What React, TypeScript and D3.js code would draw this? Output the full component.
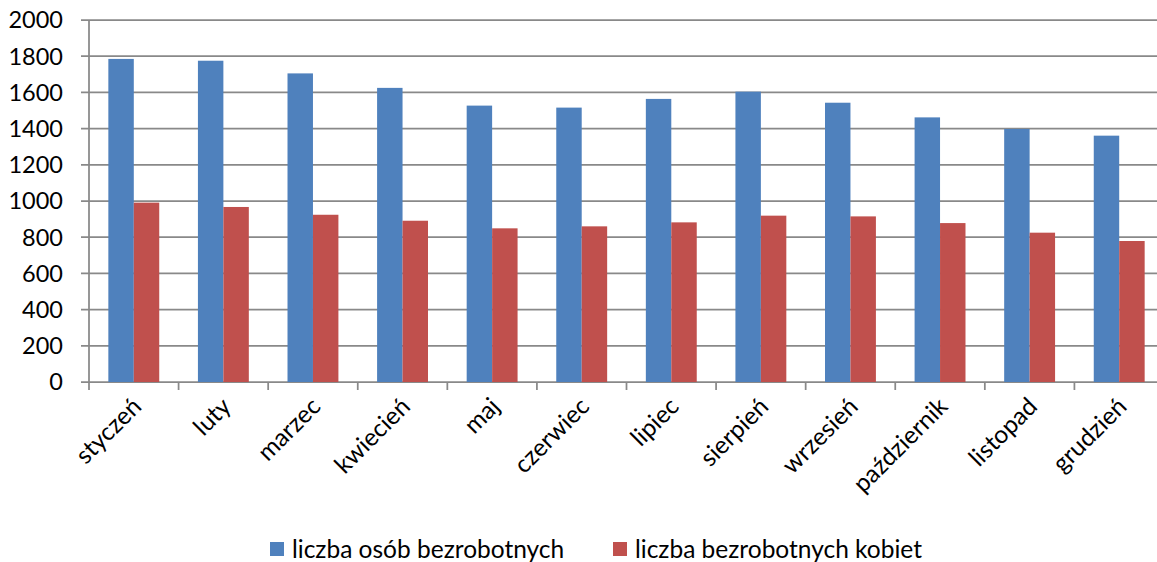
import { useEffect, useRef } from "react";
import * as d3 from "d3";

const months = [
  "styczeń", "luty", "marzec", "kwiecień", "maj", "czerwiec",
  "lipiec", "sierpień", "wrzesień", "październik", "listopad", "grudzień",
];
const unemployed = [1785, 1775, 1705, 1625, 1527, 1516, 1564, 1604, 1543, 1462, 1398, 1361];
const unemployedWomen = [991, 967, 924, 891, 849, 860, 882, 919, 915, 878, 825, 779];
const seriesNames = ["liczba osób bezrobotnych", "liczba bezrobotnych kobiet"];
const seriesColors = ["#4F81BD", "#C0504D"];
const yTicks = [0, 200, 400, 600, 800, 1000, 1200, 1400, 1600, 1800, 2000];

export default function App() {
  const svgRef = useRef<SVGSVGElement>(null);

  useEffect(() => {
    const svg = d3.select(svgRef.current);
    svg.selectAll("*").remove();

    const W = 1157;
    const left = 89, right = 1164, top = 20, bottom = 382;
    const font = "Lato, 'Open Sans', sans-serif";

    const x = d3.scaleBand().domain(months).range([left, right]);
    const inner = d3.scaleBand().domain(["0", "1"]).range([0, x.bandwidth()]).paddingOuter(0.76).paddingInner(0);
    const y = d3.scaleLinear().domain([0, 2000]).range([bottom, top]);

    // gridlines
    svg.append("g")
      .selectAll("line")
      .data(yTicks)
      .join("line")
      .attr("x1", left - 8)
      .attr("x2", W)
      .attr("y1", (d) => y(d))
      .attr("y2", (d) => y(d))
      .attr("stroke", "#898989")
      .attr("stroke-width", 1.75);

    // y labels
    svg.append("g")
      .selectAll("text")
      .data(yTicks)
      .join("text")
      .attr("x", 63)
      .attr("y", (d) => y(d))
      .attr("dy", "0.36em")
      .attr("text-anchor", "end")
      .attr("font-family", font)
      .attr("font-size", "23.5px")
      .attr("fill", "#000")
      .text((d) => d);

    // y axis line
    svg.append("line")
      .attr("x1", left).attr("x2", left)
      .attr("y1", top).attr("y2", bottom)
      .attr("stroke", "#898989").attr("stroke-width", 1.75);

    // x ticks
    svg.append("g")
      .selectAll("line")
      .data(d3.range(months.length + 1))
      .join("line")
      .attr("x1", (i) => left + i * x.step())
      .attr("x2", (i) => left + i * x.step())
      .attr("y1", bottom)
      .attr("y2", bottom + 8)
      .attr("stroke", "#898989")
      .attr("stroke-width", 1.75);

    const data = [unemployed, unemployedWomen];
    data.forEach((vals, s) => {
      svg.append("g")
        .selectAll("rect")
        .data(vals)
        .join("rect")
        .attr("x", (_, i) => (x(months[i]) ?? 0) + (inner(String(s)) ?? 0))
        .attr("y", (d) => y(d))
        .attr("width", inner.bandwidth())
        .attr("height", (d) => y(0) - y(d))
        .attr("fill", seriesColors[s]);
    });

    // x labels
    svg.append("g")
      .selectAll("text")
      .data(months)
      .join("text")
      .attr("transform", (d) => `translate(${(x(d) ?? 0) + x.bandwidth() / 2 + 3},${bottom + 20}) rotate(-45)`)
      .attr("text-anchor", "end")
      .attr("dy", "0.35em")
      .attr("font-family", font)
      .attr("font-size", "24.5px")
      .attr("fill", "#000")
      .text((d) => d);

    // legend
    const legendX = [270, 613];
    seriesNames.forEach((name, i) => {
      const g = svg.append("g").attr("transform", `translate(${legendX[i]},542)`);
      g.append("rect").attr("width", 14).attr("height", 14).attr("fill", seriesColors[i]);
      g.append("text")
        .attr("x", 22)
        .attr("y", 7)
        .attr("dy", "0.36em")
        .attr("font-family", font)
        .attr("font-size", "24.5px")
        .attr("fill", "#000")
        .text(name);
    });
  }, []);

  return (
    <svg
      ref={svgRef}
      width={1157}
      height={562}
      style={{ position: "absolute", left: 0, top: 0, background: "#fff" }}
    />
  );
}
